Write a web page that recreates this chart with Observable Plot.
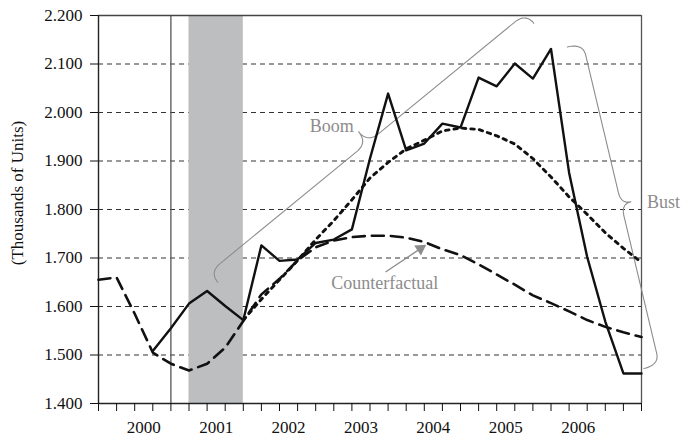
<!DOCTYPE html>
<html><head><meta charset="utf-8">
<script src="https://cdn.jsdelivr.net/npm/d3@7"></script>
<script src="https://cdn.jsdelivr.net/npm/@observablehq/plot@0.6"></script>
<style>
body{margin:0;background:#fff;}
#chart svg{display:block;}
</style>
</head><body><div id="chart"></div>
<script>
// ---------- data ----------
const quarters = ["1999Q4","2000Q1","2000Q2","2000Q3","2000Q4","2001Q1","2001Q2","2001Q3","2001Q4",
  "2002Q1","2002Q2","2002Q3","2002Q4","2003Q1","2003Q2","2003Q3","2003Q4","2004Q1","2004Q2","2004Q3","2004Q4",
  "2005Q1","2005Q2","2005Q3","2005Q4","2006Q1","2006Q2","2006Q3","2006Q4","2007Q1","2007Q2"];
const years = ["2000","2001","2002","2003","2004","2005","2006"];
const actual = [null,null,null,1.508,1.555,1.606,1.632,1.601,1.572,1.726,1.694,1.697,1.731,1.738,1.759,1.905,
  2.039,1.922,1.936,1.977,1.969,2.072,2.054,2.101,2.070,2.131,1.876,1.702,1.569,1.462,1.462];
const trend = [null,null,null,null,null,null,null,null,1.572,1.615,1.655,1.695,1.738,1.777,1.820,1.865,
  1.897,1.925,1.943,1.962,1.968,1.965,1.952,1.935,1.905,1.867,1.826,1.790,1.752,1.720,1.691];
const counterfactual = [1.655,1.660,1.585,1.505,1.482,1.468,1.482,1.515,1.570,1.625,1.657,1.695,1.722,1.736,1.743,1.746,
  1.746,1.742,1.733,1.718,1.706,1.687,1.666,1.645,1.623,1.607,1.590,1.572,1.558,1.547,1.537];
const yTicks = [1.4,1.5,1.6,1.7,1.8,1.9,2.0,2.1,2.2];
const gridValues = [1.5,1.6,1.7,1.8,1.9,2.0,2.1];
const recession = {start:"2001Q1", end:"2001Q4"};
const markerQuarter = "2000Q4";
const yLabel = "(Thousands of Units)";
// annotations (in data units: quarter index, value)
const boomBrace = {from:[6.59,1.650], to:[24.05,2.184], arm:13, cusp:27, curl:14};
const bustBrace = {from:[25.9,2.135], to:[30.13,1.472], arm:16, cusp:26, curl:12};
const centeredLabels = [
  {k:12.89, v:1.972, text:"Boom"},
  {k:15.81, v:1.649, text:"Counterfactual"}
];
const sideLabels = [{k:30.3, v:1.815, text:"Bust"}];
const cfArrow = {k1:15.86, v1:1.671, k2:17.97, v2:1.724};

// ---------- layout ----------
const W = 683, H = 437, ML = 98, MR = 42, MT = 15, MB = 34;
const X0 = 0, X1 = quarters.length - 1, Y0 = 1.4, Y1 = 2.2;
const toPx = (k, v) => [ML + (k - X0) / (X1 - X0) * (W - ML - MR), MT + (Y1 - v) / (Y1 - Y0) * (H - MT - MB)];
const toData = (px, py) => ({k: X0 + (px - ML) / (W - ML - MR) * (X1 - X0), v: Y1 - (py - MT) / (H - MT - MB) * (Y1 - Y0)});

function bracePoints(b) {
  const [ax, ay] = toPx(...b.from), [bx, by] = toPx(...b.to);
  const L = Math.hypot(bx - ax, by - ay);
  const ux = (bx - ax) / L, uy = (by - ay) / L;
  const nx = uy, ny = -ux;
  const h = b.arm, d = b.cusp, c = b.curl, m = L / 2;
  const local = [];
  const quad = (p0, p1, p2) => { for (let i = 0; i <= 14; i++) { const t = i / 14, a = (1-t)*(1-t), bb = 2*(1-t)*t, cc = t*t;
      local.push([a*p0[0]+bb*p1[0]+cc*p2[0], a*p0[1]+bb*p1[1]+cc*p2[1]]); } };
  quad([0,0],[0,h],[c,h]);
  quad([m-c,h],[m,h],[m,d]);
  quad([m,d],[m,h],[m+c,h]);
  quad([L-c,h],[L,h],[L,0]);
  return local.map(([s, t]) => toData(ax + ux*s + nx*t, ay + uy*s + ny*t));
}

const rows = (arr) => arr.map((v, i) => ({k: i, v})).filter(d => d.v != null);
const yearPos = years.map(y => quarters.indexOf(y + "Q2") + 0.5);
const recStart = quarters.indexOf(recession.start), recEnd = quarters.indexOf(recession.end);
const markerK = quarters.indexOf(markerQuarter);

// arrow head angle
const [ax1, ay1] = toPx(cfArrow.k1, cfArrow.v1), [ax2, ay2] = toPx(cfArrow.k2, cfArrow.v2);
const alen = Math.hypot(ax2 - ax1, ay2 - ay1);
const headAngle = Math.atan2(ax2 - ax1, -(ay2 - ay1)) * 180 / Math.PI;
const headBack = toData(ax2 - (ax2-ax1)/alen*4, ay2 - (ay2-ay1)/alen*4);

const gray = "#8c8c8c";
const chart = Plot.plot({
  width: W, height: H,
  marginLeft: ML, marginRight: MR, marginTop: MT, marginBottom: MB,
  style: {fontFamily: "'Liberation Serif', serif", fontSize: "17px", background: "#fff", color: "#111"},
  x: {domain: [X0, X1]},
  y: {domain: [Y0, Y1]},
  marks: [
    Plot.ruleY(gridValues, {stroke: "#333", strokeWidth: 1, strokeDasharray: "5,4"}),
    Plot.rect([recession], {x1: () => recStart, x2: () => recEnd, y1: Y0, y2: Y1, fill: "#bdbec0"}),
    Plot.ruleX([markerK], {stroke: "#555", strokeWidth: 1.3}),
    Plot.ruleY([Y1], {stroke: "#444", strokeWidth: 1.3}),
    Plot.ruleX([X1], {stroke: "#555", strokeWidth: 1.3}),
    Plot.ruleX([X0], {stroke: "#222", strokeWidth: 1.4}),
    Plot.ruleY([Y0], {stroke: "#222", strokeWidth: 1.4}),
    Plot.axisY({ticks: yTicks, tickSize: 8, tickPadding: 8, tickFormat: d3.format(".3f"), label: null, fontSize: 17}),
    Plot.axisX({ticks: d3.range(X0, X1 + 1), tickSize: 8, tickFormat: () => "", label: null}),
    Plot.axisX({ticks: yearPos, tickSize: 0, tickPadding: 17, tickFormat: d => years[yearPos.indexOf(d)], label: null, fontSize: 17}),
    Plot.text([yLabel], {x: X0, y: 1.834, dx: -81, rotate: -90, text: d => d, fontSize: 17, fill: "#111"}),
    Plot.line(bracePoints(boomBrace), {x: "k", y: "v", stroke: gray, strokeWidth: 1.1}),
    Plot.line(bracePoints(bustBrace), {x: "k", y: "v", stroke: gray, strokeWidth: 1.1}),
    Plot.line(rows(counterfactual), {x: "k", y: "v", stroke: "#111", strokeWidth: 2.6, strokeDasharray: "12,7"}),
    Plot.line(rows(trend), {x: "k", y: "v", stroke: "#111", strokeWidth: 2.9, strokeDasharray: "3.5,5"}),
    Plot.line(rows(actual), {x: "k", y: "v", stroke: "#111", strokeWidth: 2.4}),
    Plot.link([cfArrow], {x1: "k1", y1: "v1", x2: () => headBack.k, y2: () => headBack.v, stroke: gray, strokeWidth: 1.3}),
    Plot.dot([headBack], {x: "k", y: "v", symbol: "triangle", r: 4.5, fill: gray, stroke: "none", rotate: headAngle}),
    Plot.text(centeredLabels, {x: "k", y: "v", text: "text", textAnchor: "middle", fontSize: 18, fill: gray}),
    Plot.text(sideLabels, {x: "k", y: "v", text: "text", textAnchor: "start", fontSize: 18, fill: gray})
  ]
});
document.getElementById("chart").appendChild(chart);
</script>
</body></html>
